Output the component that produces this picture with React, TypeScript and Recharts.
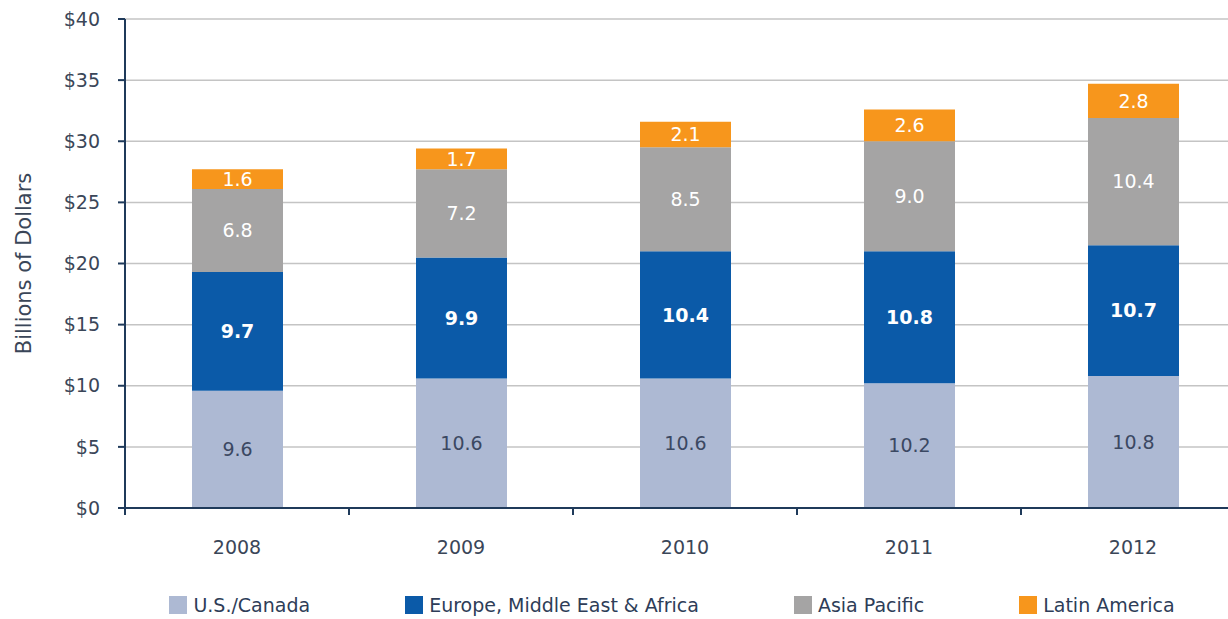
import React from "react";
import { BarChart, Bar, XAxis, YAxis, CartesianGrid, LabelList, Legend } from "recharts";

const years = ["2008", "2009", "2010", "2011", "2012"];
const usCanada = [9.6, 10.6, 10.6, 10.2, 10.8];
const emea = [9.7, 9.9, 10.4, 10.8, 10.7];
const asiaPacific = [6.8, 7.2, 8.5, 9.0, 10.4];
const latinAmerica = [1.6, 1.7, 2.1, 2.6, 2.8];
const yTicks = [0, 5, 10, 15, 20, 25, 30, 35, 40];

const seriesInfo = [
  { key: "us", name: "U.S./Canada", color: "#adb9d3", label: "#3b4862", weight: 400 },
  { key: "emea", name: "Europe, Middle East & Africa", color: "#0b5aa8", label: "#ffffff", weight: 700 },
  { key: "ap", name: "Asia Pacific", color: "#a5a4a4", label: "#ffffff", weight: 400 },
  { key: "la", name: "Latin America", color: "#f7961c", label: "#ffffff", weight: 400 },
];

const data = years.map((y, i) => ({
  year: y,
  us: usCanada[i],
  emea: emea[i],
  ap: asiaPacific[i],
  la: latinAmerica[i],
}));

const FONT = "'DejaVu Sans', sans-serif";
const AXIS = "#1f3a5a";
const TEXT = "#3a4658";

function XTick(props: any) {
  const { x, y, payload, width, visibleTicksCount } = props;
  const half = payload && payload.offset != null ? payload.offset : width / (2 * visibleTicksCount);
  return (
    <g>
      <line x1={x - half} x2={x - half} y1={y} y2={y + 7} stroke={AXIS} strokeWidth={2} />
      <text x={x} y={y + 46} textAnchor="middle" fill={TEXT} fontSize={19} fontFamily={FONT}>
        {payload.value}
      </text>
    </g>
  );
}

function LegendContent() {
  return (
    <div style={{ display: "flex", justifyContent: "center", gap: 95, fontFamily: FONT, fontSize: 19, color: "#2e3d58" }}>
      {seriesInfo.map((s) => (
        <div key={s.key} style={{ display: "flex", alignItems: "center", gap: 6 }}>
          <span style={{ display: "inline-block", width: 18, height: 18, background: s.color }} />
          <span>{s.name}</span>
        </div>
      ))}
    </div>
  );
}

export default function App() {
  return (
    <div style={{ position: "fixed", left: 0, top: 0, width: 1228, height: 619, overflow: "hidden", background: "#fff" }}>
      <BarChart width={1245} height={619} data={data} margin={{ top: 19, right: 0, left: 0, bottom: 71 }}>
        <CartesianGrid vertical={false} stroke="#c4c4c4" strokeWidth={1.5} />
        <XAxis
          dataKey="year"
          height={40}
          tickSize={0}
          tickMargin={0}
          tickLine={false}
          axisLine={{ stroke: AXIS, strokeWidth: 2 }}
          tick={<XTick />}
          interval={0}
        />
        <YAxis
          width={125}
          domain={[0, 40]}
          ticks={yTicks}
          tickFormatter={(v: number) => `$${v}`}
          tickSize={7}
          tickMargin={18}
          axisLine={{ stroke: AXIS, strokeWidth: 2 }}
          tickLine={{ stroke: AXIS, strokeWidth: 2 }}
          tick={{ fill: TEXT, fontSize: 19, fontFamily: FONT }}
          label={{
            value: "Billions of Dollars",
            angle: -90,
            position: "insideLeft",
            offset: 24,
            style: { textAnchor: "middle", fill: TEXT, fontSize: 21, fontFamily: FONT },
          }}
        />
        <Legend
          verticalAlign="middle"
          align="center"
          layout="horizontal"
          content={<LegendContent />}
          wrapperStyle={{ position: "absolute", top: 594, left: 116, width: 1112 }}
        />
        {seriesInfo.map((s) => (
          <Bar key={s.key} dataKey={s.key} name={s.name} stackId="a" fill={s.color} barSize={91} isAnimationActive={false}>
            <LabelList
              dataKey={s.key}
              position="center"
              fill={s.label}
              fontSize={19}
              fontWeight={s.weight}
              fontFamily={FONT}
              formatter={(v: any) => Number(v).toFixed(1)}
            />
          </Bar>
        ))}
      </BarChart>
    </div>
  );
}
